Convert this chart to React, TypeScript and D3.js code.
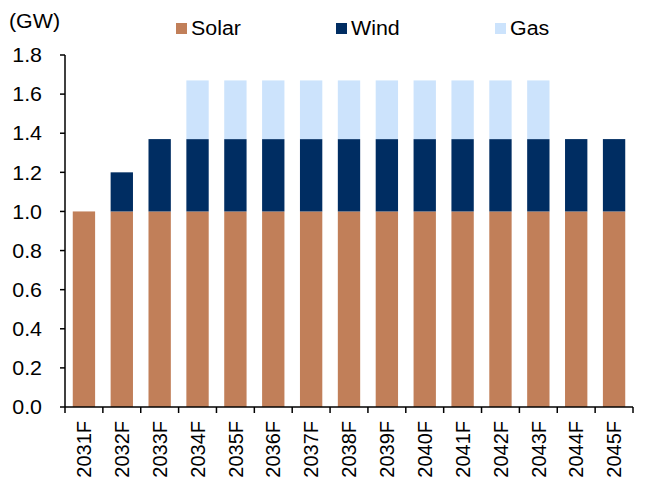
import { useEffect, useRef } from 'react';
import * as d3 from 'd3';

const years = [
  '2031F', '2032F', '2033F', '2034F', '2035F', '2036F', '2037F', '2038F',
  '2039F', '2040F', '2041F', '2042F', '2043F', '2044F', '2045F',
];
const solar = [1.0, 1.0, 1.0, 1.0, 1.0, 1.0, 1.0, 1.0, 1.0, 1.0, 1.0, 1.0, 1.0, 1.0, 1.0];
const wind = [0, 0.2, 0.37, 0.37, 0.37, 0.37, 0.37, 0.37, 0.37, 0.37, 0.37, 0.37, 0.37, 0.37, 0.37];
const gas = [0, 0, 0, 0.3, 0.3, 0.3, 0.3, 0.3, 0.3, 0.3, 0.3, 0.3, 0.3, 0, 0];
const yTicks = [0, 0.2, 0.4, 0.6, 0.8, 1.0, 1.2, 1.4, 1.6, 1.8];

const seriesNames = ['Solar', 'Wind', 'Gas'];
const colors = ['#C17F59', '#002D62', '#CCE3FC'];

export default function App() {
  const svgRef = useRef<SVGSVGElement>(null);

  useEffect(() => {
    if (!svgRef.current) return;
    const svg = d3.select(svgRef.current);
    svg.selectAll('*').remove();

    const width = 650;
    const height = 483;
    const left = 65;
    const right = 633;
    const top = 55;
    const bottom = 407;
    const font = 'Liberation Sans, Arial, sans-serif';
    // text in the source looks a little wider than plain Arial
    const stretch = 'scale(1.07,1)';

    const x = d3.scaleBand().domain(years).range([left, right]).paddingInner(0.41).paddingOuter(0.205);
    const y = d3.scaleLinear().domain([0, 1.8]).range([bottom, top]);

    const rows = years.map((yr, i) => ({ year: yr, Solar: solar[i], Wind: wind[i], Gas: gas[i] }));
    const stacked = d3.stack<any>().keys(seriesNames)(rows);

    svg.attr('width', width).attr('height', height);

    stacked.forEach((layer, si) => {
      svg
        .append('g')
        .selectAll('rect')
        .data(layer.filter((d) => d[1] - d[0] > 0))
        .join('rect')
        .attr('x', (d) => x(d.data.year)!)
        .attr('width', x.bandwidth())
        .attr('y', (d) => y(d[1]))
        .attr('height', (d) => y(d[0]) - y(d[1]))
        .attr('fill', colors[si]);
    });

    // y axis
    const ya = svg.append('g');
    ya.append('line')
      .attr('x1', left).attr('x2', left)
      .attr('y1', y(1.8)).attr('y2', bottom)
      .attr('stroke', '#000').attr('stroke-width', 1.5);
    yTicks.forEach((t) => {
      ya.append('line')
        .attr('x1', left - 5).attr('x2', left)
        .attr('y1', y(t)).attr('y2', y(t))
        .attr('stroke', '#000').attr('stroke-width', 1.5);
      ya.append('text')
        .attr('transform', `translate(42,${y(t)}) ${stretch}`)
        .attr('dy', '0.36em')
        .attr('text-anchor', 'end')
        .attr('font-family', font).attr('font-size', 20)
        .text(t.toFixed(1));
    });
    svg.append('text')
      .attr('transform', `translate(9,28) ${stretch}`)
      .attr('font-family', font).attr('font-size', 20)
      .text('(GW)');

    // x axis
    const xa = svg.append('g');
    xa.append('line')
      .attr('x1', left).attr('x2', right)
      .attr('y1', bottom).attr('y2', bottom)
      .attr('stroke', '#000').attr('stroke-width', 1.5);
    const step = x.step();
    d3.range(years.length + 1).forEach((i) => {
      const xx = left + i * step;
      xa.append('line')
        .attr('x1', xx).attr('x2', xx)
        .attr('y1', bottom).attr('y2', bottom + 6)
        .attr('stroke', '#000').attr('stroke-width', 1.5);
    });
    years.forEach((yr) => {
      const cx = x(yr)! + x.bandwidth() / 2;
      xa.append('text')
        .attr('transform', `translate(${cx},421) rotate(-90)`)
        .attr('dy', '0.36em')
        .attr('text-anchor', 'end')
        .attr('font-family', font).attr('font-size', 20)
        .text(yr);
    });

    // legend
    const legendX = [176, 336, 495];
    seriesNames.forEach((name, i) => {
      svg.append('rect')
        .attr('x', legendX[i]).attr('y', 23)
        .attr('width', 11).attr('height', 11)
        .attr('fill', colors[i]);
      svg.append('text')
        .attr('transform', `translate(${legendX[i] + 15},35) ${stretch}`)
        .attr('font-family', font).attr('font-size', 20)
        .text(name);
    });
  }, []);

  return <svg ref={svgRef} style={{ display: 'block', position: 'absolute', left: 0, top: 0 }} />;
}
